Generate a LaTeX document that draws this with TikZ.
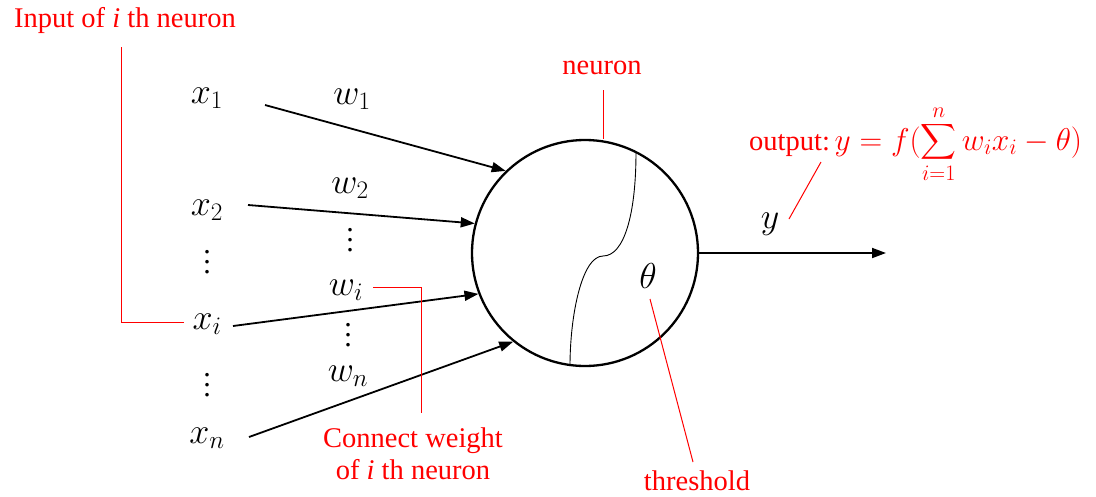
\RequirePackage{fix-cm}
\documentclass[tikz,border=0pt]{standalone}
\usepackage{exscale}
\usepackage{fontspec}
\setmainfont{Liberation Serif}
\newfontfamily\redserif{Liberation Serif}
\usetikzlibrary{arrows.meta}
\newcommand{\myvd}{\vbox{\baselineskip=10pt\lineskiplimit=0pt\hbox{.}\hbox{.}\hbox{.}}}
\tikzset{
  arr/.style={line width=1.8pt, -{Triangle[length=14pt,width=10pt]}},
  redtxt/.style={text=red, font=\redserif\fontsize{28.5}{33}\selectfont, inner sep=0pt},
  redline/.style={draw=red, line width=1pt},
  mth/.style={font=\redserif\fontsize{36}{40}\selectfont, inner sep=0pt},
  dots/.style={font=\redserif\fontsize{30}{30}\selectfont, inner sep=0pt},
}
\begin{document}
\begin{tikzpicture}[x=1pt,y=-1pt]
\useasboundingbox (0,0) rectangle (1096,496);
% neuron
\node[circle, draw, line width=2.3pt, minimum size=226pt, inner sep=0pt] (neuron) at (585,253) {};
\draw[line width=0.9pt] (636,152) .. controls (636,215) and (624,256) .. (603,256)
      .. controls (582,256) and (570,315) .. (570,366);
\node[mth] (theta) at (648,276) {$\theta$};
% inputs
\node[mth] (x1) at (207,98) {$x_1$};
\node[mth] (x2) at (207,210) {$x_2$};
\node[dots] (vx1) at (207,262) {\myvd};
\node[mth] (xi) at (207,324) {$x_i$};
\node[dots] (vx2) at (207,385) {\myvd};
\node[mth] (xn) at (207,438) {$x_n$};
% weights
\node[mth] (w1) at (352,99) {$w_1$};
\node[mth] (w2) at (350,188) {$w_2$};
\node[dots] (vw1) at (350,240) {\myvd};
\node[mth] (wi) at (346,290) {$w_i$};
\node[dots] (vw2) at (348,335) {\myvd};
\node[mth] (wn) at (348,376) {$w_n$};
% arrow starts
\coordinate (s1) at (265,105);
\coordinate (s2) at (248,205);
\coordinate (si) at (233,326);
\coordinate (sn) at (249,437);
\draw[arr] (s1) -- (neuron.134);
\draw[arr] (s2) -- (neuron.165);
\draw[arr] (si) -- (neuron.201);
\draw[arr] (sn) -- (neuron.231);
% output
\coordinate (outend) at (886,253);
\draw[arr] (neuron.east) -- (outend);
\node[mth] (y) at (770,224) {$y$};
% labels
\node[redtxt] (inlbl) at (125,20) {Input of \textit{i} th neuron};
\coordinate (in1) at (121,47);
\coordinate (in2) at (121,322);
\coordinate (in3) at (184,322);
\draw[redline] (in1) -- (in2) -- (in3);

\node[redtxt] (nlbl) at (602,68) {neuron};
\coordinate (n1) at (603,90);
\coordinate (n2) at (603,139);
\draw[redline] (n1) -- (n2);

\node[redtxt, align=center] (cwlbl) at (413,454) {Connect weight\\[-1pt]of \textit{i} th neuron};
\coordinate (c1) at (373,287);
\coordinate (c2) at (421,287);
\coordinate (c3) at (421,413);
\draw[redline] (c1) -- (c2) -- (c3);

\node[redtxt] (thlbl) at (697,481) {threshold};
\coordinate (t1) at (650,299);
\coordinate (t2) at (693,462);
\draw[redline] (t1) -- (t2);

\node[redtxt, anchor=base west] (outlbl) at (749,150)
  {output:\,\fontsize{31.5}{36}\selectfont$\displaystyle y=f(\sum_{i=1}^{n} w_i x_i-\theta)$};
\coordinate (o1) at (789,219);
\coordinate (o2) at (821,162);
\draw[redline] (o1) -- (o2);
\end{tikzpicture}
\end{document}
